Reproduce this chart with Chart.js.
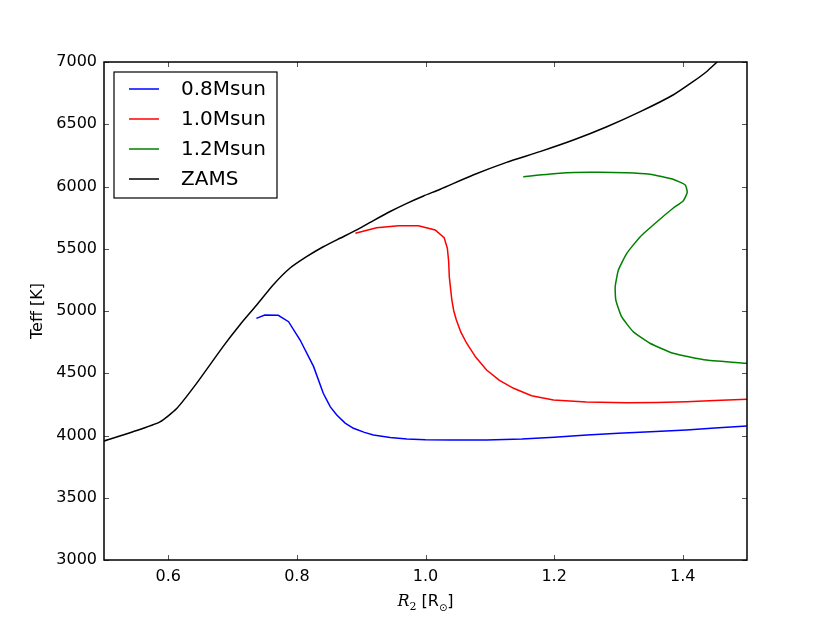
<!DOCTYPE html>
<html>
<head>
<meta charset="utf-8">
<script src="https://cdn.jsdelivr.net/npm/chart.js@4/dist/chart.umd.min.js"></script>
<style>
  html, body { margin: 0; padding: 0; background: #fff; }
  #wrap { width: 830px; height: 623px; }
</style>
</head>
<body>
<div id="wrap"><canvas id="hrd"></canvas></div>
<script>

// tracks: radius [Rsun] and Teff [K]
var zamsR  = [0.5, 0.545, 0.587, 0.613, 0.644, 0.686, 0.7115, 0.7375, 0.763, 0.789, 0.815, 0.841, 0.867, 0.893, 0.919, 0.945, 0.971, 0.997, 1.023, 1.074, 1.126, 1.178, 1.230, 1.282, 1.334, 1.385, 1.416, 1.437, 1.453, 1.456];
var zamsT  = [3956, 4030, 4110, 4217, 4419, 4720, 4890, 5048, 5209, 5343, 5436, 5516, 5584, 5651, 5726, 5799, 5865, 5924, 5978, 6092, 6194, 6280, 6373, 6480, 6601, 6735, 6842, 6922, 6998, 7010];

var m08R = [0.737, 0.750, 0.771, 0.787, 0.805, 0.826, 0.841, 0.852, 0.862, 0.875, 0.888, 0.905, 0.919, 0.945, 0.971, 1.000, 1.038, 1.095, 1.150, 1.200, 1.251, 1.300, 1.350, 1.406, 1.450, 1.500];
var m08T = [4941, 4968, 4965, 4914, 4767, 4553, 4339, 4230, 4165, 4100, 4058, 4025, 4004, 3984, 3972, 3966, 3964, 3964, 3972, 3985, 4004, 4018, 4030, 4044, 4060, 4076];

var m10R = [0.891, 0.924, 0.958, 0.989, 1.015, 1.029, 1.034, 1.036, 1.037, 1.039, 1.041, 1.044, 1.048, 1.055, 1.064, 1.078, 1.095, 1.115, 1.137, 1.165, 1.199, 1.250, 1.313, 1.360, 1.406, 1.450, 1.500];
var m10T = [5624, 5669, 5685, 5685, 5651, 5589, 5503, 5400, 5276, 5180, 5088, 5000, 4928, 4830, 4741, 4630, 4526, 4443, 4379, 4320, 4285, 4270, 4264, 4266, 4272, 4281, 4291];

var m12R = [1.152, 1.209, 1.256, 1.313, 1.349, 1.385, 1.404, 1.407, 1.401, 1.385, 1.360, 1.334, 1.313, 1.300, 1.295, 1.296, 1.305, 1.323, 1.349, 1.385, 1.437, 1.500];
var m12T = [6079, 6106, 6114, 6111, 6098, 6058, 6012, 5953, 5886, 5825, 5717, 5597, 5463, 5329, 5195, 5088, 4954, 4834, 4741, 4660, 4606, 4580];

var trackNames  = ['0.8Msun', '1.0Msun', '1.2Msun', 'ZAMS'];
var trackColors = ['#0000ff', '#ff0000', '#008000', '#000000'];
var trackTension = [0, 0, 0.15, 0.2];

var xTicks = [0.6, 0.8, 1.0, 1.2, 1.4];
var yTicks = [3000, 3500, 4000, 4500, 5000, 5500, 6000, 6500, 7000];

function toPoints(xs, ys) {
  var pts = [];
  for (var i = 0; i < xs.length; i++) {
    pts.push({x: xs[i], y: ys[i]});
  }
  return pts;
}

var tracks = [toPoints(m08R, m08T), toPoints(m10R, m10T), toPoints(m12R, m12T), toPoints(zamsR, zamsT)];

var datasets = [];
for (var i = 0; i < tracks.length; i++) {
  datasets.push({
    label: trackNames[i],
    data: tracks[i],
    borderColor: trackColors[i],
    backgroundColor: trackColors[i],
    borderWidth: 1.5,
    showLine: true,
    pointRadius: 0,
    tension: trackTension[i]
  });
}

// frame with inward ticks on all four sides, matplotlib style
var framePlugin = {
  id: 'frame',
  afterDatasetsDraw: function(chart) {
    var ctx = chart.ctx, a = chart.chartArea;
    var xs = chart.scales.x, ys = chart.scales.y;
    ctx.save();
    ctx.strokeStyle = '#555';
    ctx.lineWidth = 1;
    ctx.beginPath();
    xs.ticks.forEach(function(t) {
      var px = Math.round(xs.getPixelForValue(t.value)) + 0.5;
      ctx.moveTo(px, a.bottom); ctx.lineTo(px, a.bottom - 5);
      ctx.moveTo(px, a.top); ctx.lineTo(px, a.top + 5);
    });
    ys.ticks.forEach(function(t) {
      var py = Math.round(ys.getPixelForValue(t.value)) + 0.5;
      ctx.moveTo(a.left, py); ctx.lineTo(a.left + 5, py);
      ctx.moveTo(a.right, py); ctx.lineTo(a.right - 5, py);
    });
    ctx.stroke();
    ctx.strokeStyle = '#000';
    ctx.lineWidth = 1.5;
    ctx.strokeRect(a.left, a.top, a.right - a.left, a.bottom - a.top);
    ctx.restore();
  }
};

// legend box in the upper left corner of the axes
var legendPlugin = {
  id: 'boxLegend',
  afterDatasetsDraw: function(chart) {
    var ctx = chart.ctx, a = chart.chartArea;
    var x0 = a.left + 10, y0 = a.top + 10;
    var w = 163, h = 126;
    ctx.save();
    ctx.fillStyle = '#fff';
    ctx.fillRect(x0, y0, w, h);
    ctx.strokeStyle = '#000';
    ctx.lineWidth = 1.2;
    ctx.strokeRect(x0, y0, w, h);
    ctx.font = '20px "DejaVu Sans"';
    ctx.textBaseline = 'middle';
    chart.data.datasets.forEach(function(ds, k) {
      var yy = y0 + 17 + k * 30;
      ctx.strokeStyle = ds.borderColor;
      ctx.lineWidth = 1.5;
      ctx.beginPath();
      ctx.moveTo(x0 + 15, yy); ctx.lineTo(x0 + 45, yy);
      ctx.stroke();
      ctx.fillStyle = '#000';
      ctx.fillText(ds.label, x0 + 67, yy + 1);
    });
    ctx.restore();
  }
};

// x axis label with math italic R and subscripts
var xLabelPlugin = {
  id: 'xLabel',
  afterDraw: function(chart) {
    var ctx = chart.ctx, a = chart.chartArea;
    var parts = [
      {t: 'R', font: 'italic 16px "DejaVu Serif"', dy: 0},
      {t: '2', font: '11px "DejaVu Serif"', dy: 4},
      {t: ' [R', font: '16px "DejaVu Sans"', dy: 0},
      {t: '\u2299', font: '10px "DejaVu Sans"', dy: 5},
      {t: ']', font: '16px "DejaVu Sans"', dy: 0}
    ];
    ctx.save();
    ctx.fillStyle = '#000';
    ctx.textBaseline = 'alphabetic';
    var total = 0;
    parts.forEach(function(p) { ctx.font = p.font; p.w = ctx.measureText(p.t).width; total += p.w; });
    var x = (a.left + a.right) / 2 - total / 2;
    var base = 606;
    parts.forEach(function(p) {
      ctx.font = p.font;
      ctx.fillText(p.t, x, base + p.dy);
      x += p.w;
    });
    ctx.restore();
  }
};

var ctx = document.getElementById('hrd');
new Chart(ctx, {
  type: 'scatter',
  data: { datasets: datasets },
  options: {
    responsive: true,
    maintainAspectRatio: false,
    animation: false,
    layout: { padding: { top: 62, right: 83, left: 0, bottom: 0 } },
    plugins: {
      legend: { display: false },
      tooltip: { enabled: false }
    },
    scales: {
      x: {
        type: 'linear',
        min: 0.5,
        max: 1.5,
        grid: { display: false, drawTicks: false },
        border: { display: false },
        afterBuildTicks: function(scale) {
          scale.ticks = xTicks.map(function(v) { return {value: v}; });
        },
        afterFit: function(scale) { scale.height = 63; },
        ticks: {
          padding: 7,
          color: '#000',
          font: { family: 'DejaVu Sans', size: 16 },
          maxRotation: 0,
          callback: function(v) { return Number(v).toFixed(1); }
        },
        title: { display: false }
      },
      y: {
        type: 'linear',
        min: 3000,
        max: 7000,
        grid: { display: false, drawTicks: false },
        border: { display: false },
        afterBuildTicks: function(scale) {
          scale.ticks = yTicks.map(function(v) { return {value: v}; });
        },
        afterFit: function(scale) { scale.width = 104; },
        ticks: {
          padding: 7,
          color: '#000',
          font: { family: 'DejaVu Sans', size: 16 },
          callback: function(v) { return String(v); }
        },
        title: {
          display: true,
          text: 'Teff [K]',
          color: '#000',
          font: { family: 'DejaVu Sans', size: 16 },
          padding: { top: 28, bottom: 0 }
        }
      }
    }
  },
  plugins: [framePlugin, legendPlugin, xLabelPlugin]
});
</script>
</body>
</html>
